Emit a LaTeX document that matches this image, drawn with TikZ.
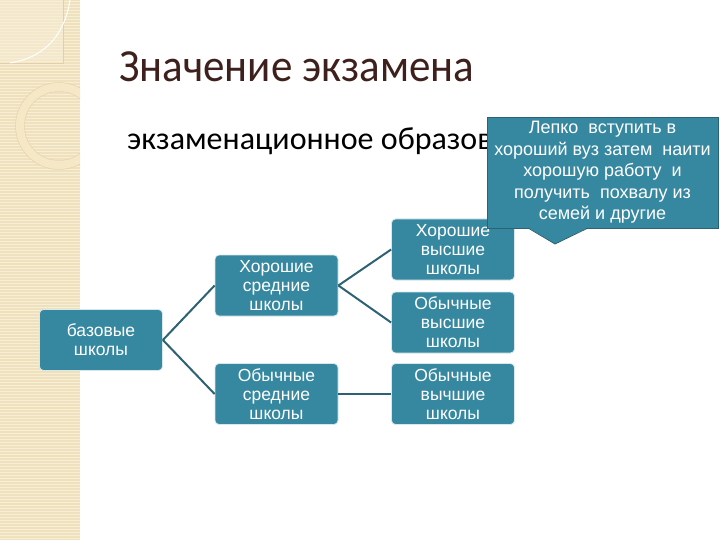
\documentclass[tikz,border=0pt]{standalone}
\usepackage{fontspec}
\setmainfont{Liberation Sans}
\newfontfamily\slidefont{Carlito}
\usetikzlibrary{positioning,calc}
\definecolor{boxTeal}{RGB}{54,136,160}
\definecolor{lineTeal}{RGB}{44,98,116}
\definecolor{stripBeige}{RGB}{240,225,190}
\definecolor{stripLight}{RGB}{247,238,214}
\definecolor{ringYellow}{RGB}{244,232,198}
\definecolor{titleBrown}{RGB}{62,32,28}

\begin{document}
\begin{tikzpicture}[x=1pt,y=-1pt,
    school/.style={rectangle, rounded corners=4pt, fill=boxTeal, draw=white!80!boxTeal,
      line width=0.8pt, text=white, minimum width=123pt, minimum height=61pt,
      align=center, inner sep=2pt, font=\fontsize{17.5}{19}\selectfont},
    notebox/.style={rectangle, fill=boxTeal, draw=lineTeal, line width=0.8pt, text=white,
      minimum width=231pt, minimum height=111pt, align=center, inner sep=1pt,
      font=\fontsize{18}{21.5}\selectfont},
    link/.style={lineTeal, line width=2pt}
  ]
  \useasboundingbox (0,0) rectangle (720,540);
  % Left decorative strip
  \fill[stripBeige] (0,0) rectangle (80,540);
  \foreach \y in {1.5,4.5,...,540} \draw[stripLight, line width=0.7pt] (0,\y) -- (80,\y);
  \fill[stripLight, opacity=0.6] (0,0) rectangle (63,63);
  \draw[brown!20!stripBeige, line width=0.6pt] (0,63) -- (63,63) -- (63,0);
  \draw[white, line width=1pt] (70,0) .. controls (64,38) and (42,58) .. (10,63);
  \begin{scope}
    \clip (0,0) rectangle (80,540);
    \draw[ringYellow, line width=8pt] (59,126) circle (39);
    \draw[brown!15!stripBeige, line width=0.5pt] (59,126) circle (43.5);
    \draw[brown!15!stripBeige, line width=0.5pt] (59,126) circle (34.5);
  \end{scope}
  % Title and subtitle
  \node[anchor=base west, inner sep=0pt, text=titleBrown, font=\slidefont\fontsize{46}{46}\selectfont]
    (title) at (119,82) {\scalebox{0.935}[1]{Значение экзамена}};
  \node[anchor=base west, inner sep=0pt, font=\slidefont\fontsize{32}{32}\selectfont]
    (subtitle) at (127,150) {экзаменационное образов};
  % Schools
  \node[school] (base) at (101,340) {базовые\\школы};
  \node[school] (goodmid) at (276.5,285.5) {Хорошие\\средние\\школы};
  \node[school] (usualmid) at (276.5,394) {Обычные\\средние\\школы};
  \node[school] (goodhigh) at (453,249.5) {Хорошие\\высшие\\школы};
  \node[school] (usualhigh) at (453,322.5) {Обычные\\высшие\\школы};
  \node[school] (lasthigh) at (453,394) {Обычные\\вычшие\\школы};
  % Links
  \draw[link] (base.east) -- (goodmid.west);
  \draw[link] (base.east) -- (usualmid.west);
  \draw[link] (goodmid.east) -- (goodhigh.west);
  \draw[link] (goodmid.east) -- (usualhigh.west);
  \draw[link] (usualmid.east) -- (lasthigh.west);
  % Callout
  \node[notebox] (note) at (602.5,172.5)
    {Лепко \ вступить в\\хороший вуз затем \ наити\\хорошую работу \ и\\получить \ похвалу из\\семей и другие};
  \coordinate (tip) at (555,244);
  \fill[boxTeal] (528,227.6) -- (tip) -- (588,227.6) -- cycle;
  \draw[lineTeal, line width=0.8pt] (528,228) -- (tip) -- (588,228);
\end{tikzpicture}
\end{document}
